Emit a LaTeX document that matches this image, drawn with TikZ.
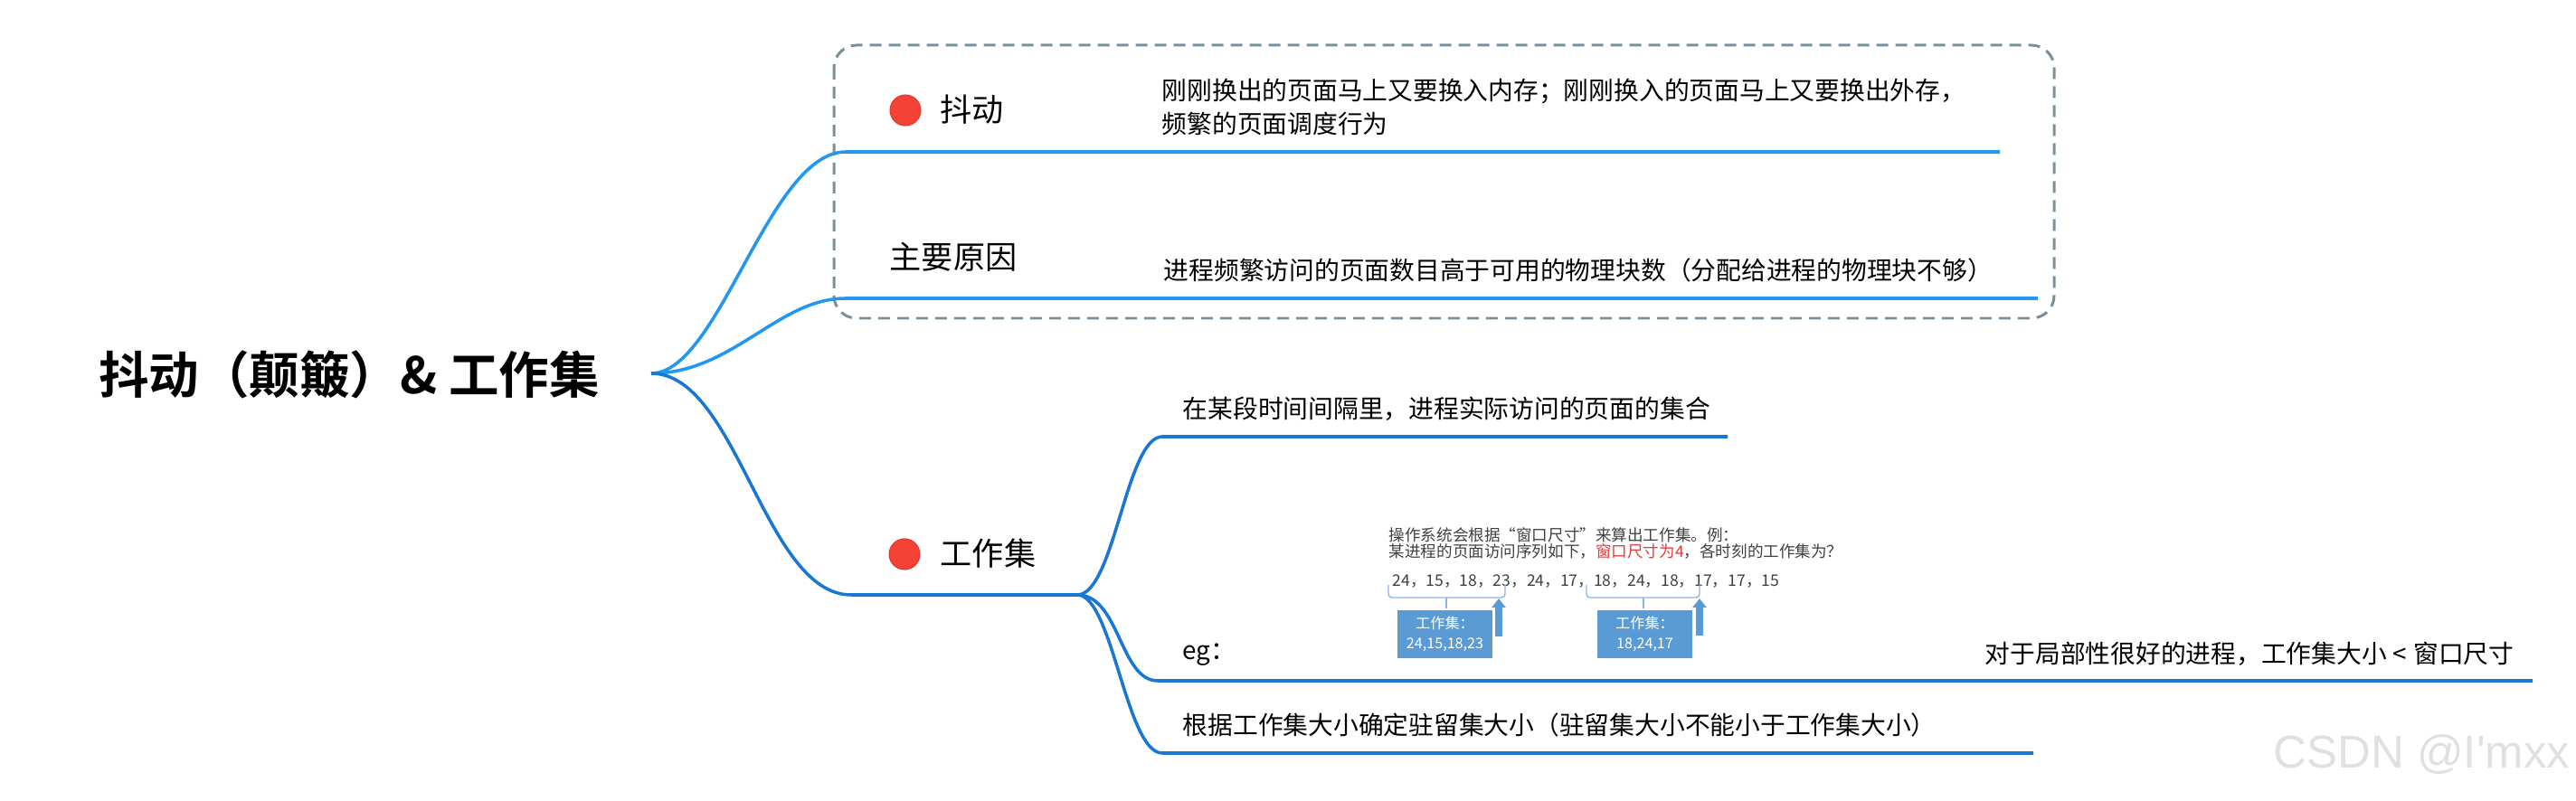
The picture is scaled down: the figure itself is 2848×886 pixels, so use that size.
\documentclass[tikz,border=0pt]{standalone}
\usepackage{fontspec}
\setmainfont{Noto Sans CJK SC}[BoldFont={Noto Sans CJK SC Bold}]
\newfontfamily\wmfont{Liberation Sans}[Ligatures=TeXOff]
\usepackage{xcolor}
\usetikzlibrary{arrows.meta}

\definecolor{branchA}{HTML}{2196F3}
\definecolor{branchB}{HTML}{1976D2}
\definecolor{boxgray}{HTML}{78909C}
\definecolor{dotred}{HTML}{F44336}
\definecolor{dotedge}{HTML}{DE3B30}
\definecolor{egblue}{HTML}{5B9BD5}
\definecolor{egtext}{HTML}{404040}
\definecolor{egred}{HTML}{E23B3B}
\definecolor{egbrace}{HTML}{8EB4E3}

\tikzset{
  limbA/.style={draw=branchA, line width=1pt},
  limbB/.style={draw=branchB, line width=1pt},
  dot/.style={circle, fill=dotred, draw=dotedge, line width=0.3pt, minimum size=3.4mm, inner sep=0pt},
  topic/.style={anchor=west, inner sep=0pt, font=\fontsize{10}{12}\selectfont},
  detail/.style={anchor=west, inner sep=0pt, align=left, font=\fontsize{7.9}{10.5}\selectfont},
  egline/.style={anchor=west, inner sep=0pt, text=egtext, font=\fontsize{5}{6}\selectfont},
  egbox/.style={fill=egblue, text=white, align=center, minimum width=10.5mm, minimum height=5.3mm, inner sep=0pt, font=\fontsize{4.6}{6.2}\selectfont},
  brace/.style={draw=egbrace, line width=0.4pt, rounded corners=0.4mm},
  uparrow/.style={draw=egblue, line width=0.8mm, -{Triangle[width=1.5mm, length=1mm]}}
}

\begin{document}
\begin{tikzpicture}[x=0.1mm, y=-0.1mm]
\useasboundingbox (0,0) rectangle (2848,886);

\draw[boxgray, line width=0.85pt, dash pattern=on 1.3mm off 0.8mm, rounded corners=2.5mm] (922,50) rectangle (2271,352);

\node[font=\bfseries\fontsize{15.8}{18}\selectfont] (root) at (386,414) {抖动（颠簸）\& 工作集};
\coordinate (hub) at (720,413);

\coordinate (thrashL) at (935,168);
\coordinate (thrashR) at (2211,168);
\coordinate (causeL) at (935,330);
\coordinate (causeR) at (2253,330);
\coordinate (wsetL) at (941,658);
\coordinate (wsetR) at (1191,658);
\coordinate (defL) at (1285,483);
\coordinate (defR) at (1910,483);
\coordinate (egL) at (1280,753);
\coordinate (egR) at (2800,753);
\coordinate (ruleL) at (1285,833);
\coordinate (ruleR) at (2248,833);

\draw[limbA] (hub) .. controls (795,413) and (850,168) .. (thrashL) -- (thrashR);
\draw[limbA] (hub) .. controls (810,413) and (860,330) .. (causeL) -- (causeR);
\draw[limbB] (hub) .. controls (815,413) and (845,658) .. (wsetL) -- (wsetR);
\draw[limbB] (wsetR) .. controls (1232,658) and (1245,483) .. (defL) -- (defR);
\draw[limbB] (wsetR) .. controls (1238,658) and (1238,753) .. (egL) -- (egR);
\draw[limbB] (wsetR) .. controls (1230,658) and (1245,833) .. (ruleL) -- (ruleR);

\node[dot] (thrashdot) at (1001,122) {};
\node[topic] (thrash) at (1039,121) {抖动};
\node[detail] (thrashtxt) at (1284,118) {刚刚换出的页面马上又要换入内存；刚刚换入的页面马上又要换出外存，\\频繁的页面调度行为};

\node[topic] (cause) at (983,284) {主要原因};
\node[detail] (causetxt) at (1286,299) {进程频繁访问的页面数目高于可用的物理块数（分配给进程的物理块不够）};

\node[dot] (wsetdot) at (1000,613) {};
\node[topic] (wset) at (1039,612) {工作集};

\node[detail] (deftxt) at (1307,452) {在某段时间间隔里，进程实际访问的页面的集合};
\node[detail] (eg) at (1307,724) {eg：};
\node[detail] (egtxt) at (2194,723) {对于局部性很好的进程，工作集大小\hspace{0.25em}<\hspace{0.25em}窗口尺寸};
\node[detail] (ruletxt) at (1307,802) {根据工作集大小确定驻留集大小（驻留集大小不能小于工作集大小）};

\node[egline] (egA) at (1535,592) {操作系统会根据“窗口尺寸”来算出工作集。例：};
\node[egline] (egB) at (1535,610) {某进程的页面访问序列如下，\textcolor{egred}{窗口尺寸为4}，各时刻的工作集为？};
\node[egline] (egseq) at (1539,643) {24，15，18，23，24，17，18，24，18，17，17，15};

\draw[brace] (1535,647) |- (1664,661) -- (1664,647);
\draw[brace] (1599,661) -- (1599,673);
\draw[brace] (1754,647) |- (1879,661) -- (1879,647);
\draw[brace] (1817,661) -- (1817,673);

\node[egbox] (setA) at (1597.5,701.5) {工作集：\\24,15,18,23};
\node[egbox] (setB) at (1818.5,701.5) {工作集：\\18,24,17};
\coordinate (arrowAbot) at (1657,704);
\coordinate (arrowAtop) at (1657,662);
\coordinate (arrowBbot) at (1879,703);
\coordinate (arrowBtop) at (1879,662);
\draw[uparrow] (arrowAbot) -- (arrowAtop);
\draw[uparrow] (arrowBbot) -- (arrowBtop);

\node[anchor=west, inner sep=0pt, text=black!12, font=\wmfont\fontsize{14.5}{16}\selectfont] (mark) at (2513,835) {CSDN @I'mxx};
\end{tikzpicture}
\end{document}
